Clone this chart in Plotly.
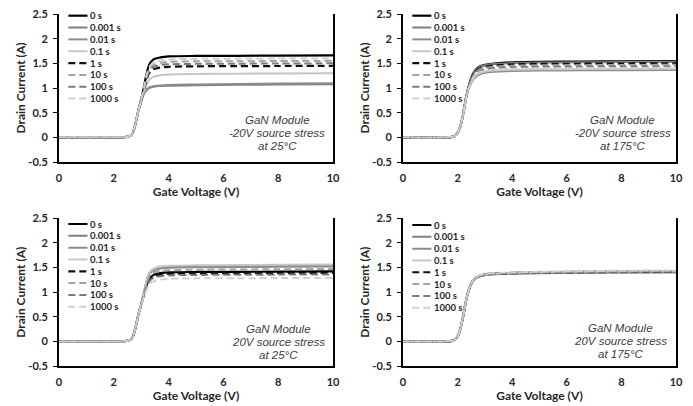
import plotly.graph_objects as go

# ---------------- data ----------------
stress_times = ["0 s", "0.001 s", "0.01 s", "0.1 s", "1 s", "10 s", "100 s", "1000 s"]

vg_25c = [0, 2.0, 2.4, 2.6, 2.7, 2.8, 2.9, 3.0, 3.1, 3.2, 3.3, 3.45, 3.7, 4.0, 5.0, 6.5, 8.0, 10.0]
vg_175c = [0, 1.5, 1.8, 1.9, 2.0, 2.1, 2.2, 2.3, 2.4, 2.5, 2.6, 2.75, 3.0, 3.4, 4.0, 5.0, 6.5, 8.0, 10.0]

# -20V source stress at 25 C
id_neg20v_25c = [
    [0, 0, 0.003, 0.03, 0.1, 0.3, 0.55, 0.77, 1.02, 1.30, 1.48, 1.58, 1.62, 1.64, 1.65, 1.653, 1.656, 1.66],
    [0, 0, 0.003, 0.03, 0.1, 0.3, 0.54, 0.72, 0.88, 0.96, 1.0, 1.025, 1.04, 1.045, 1.055, 1.065, 1.07, 1.075],
    [0, 0, 0.003, 0.03, 0.1, 0.3, 0.54, 0.72, 0.89, 0.97, 1.01, 1.035, 1.05, 1.06, 1.07, 1.08, 1.09, 1.095],
    [0, 0, 0.003, 0.03, 0.1, 0.3, 0.55, 0.74, 0.93, 1.07, 1.17, 1.23, 1.26, 1.275, 1.285, 1.29, 1.295, 1.30],
    [0, 0, 0.003, 0.03, 0.1, 0.3, 0.55, 0.75, 0.97, 1.17, 1.31, 1.38, 1.415, 1.43, 1.44, 1.443, 1.446, 1.45],
    [0, 0, 0.003, 0.03, 0.1, 0.3, 0.55, 0.76, 0.99, 1.24, 1.39, 1.47, 1.51, 1.53, 1.54, 1.543, 1.546, 1.55],
    [0, 0, 0.003, 0.03, 0.1, 0.3, 0.55, 0.75, 0.98, 1.20, 1.35, 1.43, 1.46, 1.48, 1.49, 1.493, 1.496, 1.50],
    [0, 0, 0.003, 0.03, 0.1, 0.3, 0.55, 0.76, 1.0, 1.27, 1.43, 1.52, 1.56, 1.58, 1.59, 1.593, 1.596, 1.60],
]

# -20V source stress at 175 C
id_neg20v_175c = [
    [0, 0, 0.01, 0.03, 0.09, 0.22, 0.46, 0.78, 1.02, 1.20, 1.32, 1.42, 1.47, 1.50, 1.52, 1.53, 1.535, 1.54, 1.545],
    [0, 0, 0.01, 0.03, 0.09, 0.22, 0.46, 0.78, 1.01, 1.19, 1.31, 1.41, 1.46, 1.49, 1.505, 1.515, 1.52, 1.525, 1.53],
    [0, 0, 0.01, 0.03, 0.09, 0.22, 0.45, 0.75, 0.98, 1.10, 1.19, 1.26, 1.31, 1.33, 1.345, 1.355, 1.358, 1.362, 1.365],
    [0, 0, 0.01, 0.03, 0.09, 0.22, 0.45, 0.76, 0.99, 1.12, 1.22, 1.29, 1.335, 1.355, 1.37, 1.38, 1.383, 1.386, 1.39],
    [0, 0, 0.01, 0.03, 0.09, 0.22, 0.46, 0.78, 1.01, 1.18, 1.29, 1.38, 1.43, 1.46, 1.48, 1.49, 1.492, 1.496, 1.50],
    [0, 0, 0.01, 0.03, 0.09, 0.22, 0.46, 0.77, 1.0, 1.17, 1.27, 1.36, 1.41, 1.435, 1.45, 1.46, 1.463, 1.466, 1.47],
    [0, 0, 0.01, 0.03, 0.09, 0.22, 0.46, 0.77, 1.0, 1.15, 1.25, 1.33, 1.38, 1.405, 1.42, 1.43, 1.433, 1.436, 1.44],
    [0, 0, 0.01, 0.03, 0.09, 0.22, 0.45, 0.76, 0.99, 1.13, 1.23, 1.31, 1.35, 1.375, 1.39, 1.40, 1.403, 1.406, 1.41],
]

# 20V source stress at 25 C
id_pos20v_25c = [
    [0, 0, 0.003, 0.03, 0.1, 0.3, 0.55, 0.75, 0.96, 1.15, 1.28, 1.35, 1.385, 1.40, 1.41, 1.413, 1.416, 1.42],
    [0, 0, 0.003, 0.03, 0.1, 0.3, 0.55, 0.76, 0.99, 1.23, 1.39, 1.46, 1.50, 1.515, 1.525, 1.53, 1.535, 1.54],
    [0, 0, 0.003, 0.03, 0.1, 0.3, 0.55, 0.75, 0.98, 1.22, 1.37, 1.44, 1.48, 1.495, 1.505, 1.51, 1.515, 1.52],
    [0, 0, 0.003, 0.03, 0.1, 0.3, 0.55, 0.76, 1.0, 1.25, 1.40, 1.48, 1.52, 1.535, 1.545, 1.55, 1.555, 1.56],
    [0, 0, 0.003, 0.03, 0.1, 0.3, 0.55, 0.74, 0.95, 1.13, 1.25, 1.32, 1.355, 1.37, 1.38, 1.383, 1.386, 1.39],
    [0, 0, 0.003, 0.03, 0.1, 0.3, 0.55, 0.75, 0.97, 1.18, 1.32, 1.40, 1.43, 1.445, 1.455, 1.46, 1.465, 1.47],
    [0, 0, 0.003, 0.03, 0.1, 0.3, 0.55, 0.74, 0.94, 1.10, 1.22, 1.29, 1.325, 1.34, 1.35, 1.353, 1.356, 1.36],
    [0, 0, 0.003, 0.03, 0.1, 0.3, 0.55, 0.73, 0.92, 1.05, 1.16, 1.22, 1.255, 1.27, 1.28, 1.283, 1.286, 1.29],
]

# 20V source stress at 175 C
id_pos20v_175c = [
    [0, 0, 0.01, 0.04, 0.1, 0.25, 0.5, 0.8, 1.03, 1.17, 1.26, 1.32, 1.36, 1.38, 1.39, 1.40, 1.41, 1.415, 1.42],
    [0, 0, 0.01, 0.04, 0.1, 0.25, 0.5, 0.8, 1.02, 1.16, 1.25, 1.31, 1.35, 1.37, 1.38, 1.39, 1.40, 1.405, 1.41],
    [0, 0, 0.01, 0.04, 0.1, 0.25, 0.5, 0.8, 1.02, 1.16, 1.25, 1.31, 1.345, 1.365, 1.375, 1.385, 1.39, 1.395, 1.40],
    [0, 0, 0.01, 0.04, 0.1, 0.25, 0.5, 0.8, 1.03, 1.17, 1.26, 1.32, 1.36, 1.38, 1.395, 1.41, 1.42, 1.425, 1.43],
    [0, 0, 0.01, 0.04, 0.1, 0.25, 0.5, 0.8, 1.03, 1.17, 1.26, 1.32, 1.355, 1.375, 1.385, 1.395, 1.405, 1.41, 1.415],
    [0, 0, 0.01, 0.04, 0.1, 0.25, 0.5, 0.8, 1.03, 1.17, 1.26, 1.32, 1.36, 1.38, 1.39, 1.40, 1.41, 1.42, 1.425],
    [0, 0, 0.01, 0.04, 0.1, 0.25, 0.5, 0.8, 1.03, 1.17, 1.26, 1.32, 1.36, 1.38, 1.39, 1.40, 1.41, 1.415, 1.42],
    [0, 0, 0.01, 0.04, 0.1, 0.25, 0.5, 0.8, 1.03, 1.17, 1.27, 1.33, 1.37, 1.39, 1.40, 1.415, 1.425, 1.435, 1.44],
]

panel_notes = [
    ["GaN Module", "-20V source stress", "at 25°C"],
    ["GaN Module", "-20V source stress", "at 175°C"],
    ["GaN Module", "20V source stress", "at 25°C"],
    ["GaN Module", "20V source stress", "at 175°C"],
]

current_ticks = [-0.5, 0, 0.5, 1, 1.5, 2, 2.5]
current_tick_labels = ["-0.5", "0", "0.5", "1", "1.5", "2", "2.5"]
voltage_ticks = [0, 2, 4, 6, 8, 10]
voltage_tick_labels = ["0", "2", "4", "6", "8", "10"]

# ---------------- styles ----------------
line_colors = ["#000000", "#7f7f7f", "#8c8c8c", "#c6c6c6",
               "#111111", "#a3a3a3", "#7a7a7a", "#d0d0d0"]
line_dashes = ["solid", "solid", "solid", "solid",
               "7px,4px", "7px,4px", "7px,4px", "7px,4px"]
line_widths = [2.2, 2, 2, 2, 2.2, 2, 2, 2]

panels = [
    (vg_25c, id_neg20v_25c),
    (vg_175c, id_neg20v_175c),
    (vg_25c, id_pos20v_25c),
    (vg_175c, id_pos20v_175c),
]

# page body has an 8px margin; size the figure so it fits the 693x406 window
OFF = 8
W, H = 693 - OFF, 406 - OFF
ML, MT = 59 - OFF, 14 - OFF
MR = W - (676 - OFF)
MB = H - (366 - OFF)
pw, ph = W - ML - MR, H - MT - MB


def fx(sx):
    return (sx - OFF - ML) / pw


def fy(sy):
    return (H - MB - (sy - OFF)) / ph


x_domains = [[fx(59), fx(333)], [fx(403), fx(676)]]
y_domains = [[fy(162), fy(14)], [fy(366), fy(218.3)]]

legend_top = [2.466, 2.466, 2.384, 2.364]
legend_step = 0.240
note_x = [7.97, 8.05, 8.0, 7.98]
note_y = [[0.36, 0.08, -0.18], [0.36, 0.08, -0.18], [0.26, -0.02, -0.27], [0.28, 0.01, -0.26]]

fig = go.Figure()
shapes = []
annotations = []

tick_font = dict(family="Lato", size=11, color="#262626", weight="bold")
title_font = dict(family="Lato", size=12, color="#262626", weight="bold")

for p, (vg, series) in enumerate(panels):
    n = p + 1
    xa = "x" if n == 1 else f"x{n}"
    ya = "y" if n == 1 else f"y{n}"
    for i, name in enumerate(stress_times):
        fig.add_trace(go.Scatter(
            x=vg, y=series[i], mode="lines", name=name, showlegend=False,
            line=dict(color=line_colors[i], width=line_widths[i], dash=line_dashes[i],
                      shape="spline", smoothing=0.8),
            xaxis=xa, yaxis=ya, hoverinfo="skip"))
        # legend replica (line sample + label) inside the plot area
        ly = legend_top[p] - i * legend_step
        shapes.append(dict(type="line", xref=xa, yref=ya, x0=0.34, x1=1.04, y0=ly, y1=ly,
                           line=dict(color=line_colors[i], width=line_widths[i], dash=line_dashes[i])))
        annotations.append(dict(xref=xa, yref=ya, x=1.07, y=ly, text=name, showarrow=False,
                                xanchor="left", yanchor="middle",
                                font=dict(family="Lato", size=9.5, color="#262626", weight="bold")))
    for k, txt in enumerate(panel_notes[p]):
        annotations.append(dict(xref=xa, yref=ya, x=note_x[p], y=note_y[p][k], text=txt,
                                showarrow=False, xanchor="center", yanchor="middle",
                                font=dict(family="Liberation Sans", size=11.5, color="#404040",
                                          style="italic")))

layout = dict(
    width=W, height=H, margin=dict(l=ML, r=MR, t=MT, b=MB, autoexpand=False),
    paper_bgcolor="white", plot_bgcolor="white",
    shapes=shapes, annotations=annotations, showlegend=False,
)
for p in range(4):
    n = p + 1
    xk = "xaxis" if n == 1 else f"xaxis{n}"
    yk = "yaxis" if n == 1 else f"yaxis{n}"
    xa = "x" if n == 1 else f"x{n}"
    ya = "y" if n == 1 else f"y{n}"
    layout[xk] = dict(
        domain=x_domains[p % 2], anchor=ya, range=[0, 10], automargin=False,
        tickvals=voltage_ticks, ticktext=voltage_tick_labels, ticklabeloverflow="allow",
        showgrid=False, zeroline=False, showline=True, linecolor="#000000", linewidth=2,
        ticks="", ticklabelstandoff=5, tickfont=tick_font,
        title=dict(text="Gate Voltage (V)", font=title_font, standoff=1),
    )
    layout[yk] = dict(
        domain=y_domains[p // 2], anchor=xa, range=[-0.5, 2.5], automargin=False,
        tickvals=current_ticks, ticktext=current_tick_labels, ticklabeloverflow="allow",
        showgrid=False, zeroline=False, showline=True, linecolor="#000000", linewidth=2,
        mirror=True, ticks="outside", ticklen=4, tickwidth=1, tickcolor="#000000",
        ticklabelstandoff=3, tickfont=tick_font,
        title=dict(text="Drain Current (A)", font=title_font, standoff=0),
    )

fig.update_layout(**layout)
fig.write_html("out.html")
